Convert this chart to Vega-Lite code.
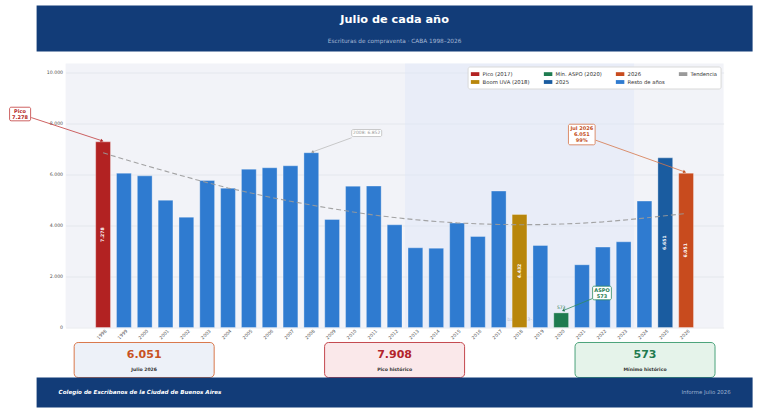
{
  "$schema": "https://vega.github.io/schema/vega-lite/v6.json",
  "background": "#ffffff",
  "padding": {"left": 8.6, "top": 5.5, "right": 8, "bottom": 4},
  "spacing": 0,
  "bounds": "flush",
  "center": true,
  "resolve": {
    "scale": {"color": "independent", "fill": "independent", "stroke": "independent", "x": "independent", "y": "independent"},
    "legend": {"color": "independent", "fill": "independent", "stroke": "independent"}
  },
  "datasets": {
    "barras": [
      {"anio": 1998, "valor": 7278, "cat": "Pico (2017)", "tendencia": 6848},
      {"anio": 1999, "valor": 6050, "cat": "Resto de años", "tendencia": 6600},
      {"anio": 2000, "valor": 5945, "cat": "Resto de años", "tendencia": 6360},
      {"anio": 2001, "valor": 4990, "cat": "Resto de años", "tendencia": 6130},
      {"anio": 2002, "valor": 4325, "cat": "Resto de años", "tendencia": 5900},
      {"anio": 2003, "valor": 5765, "cat": "Resto de años", "tendencia": 5680},
      {"anio": 2004, "valor": 5463, "cat": "Resto de años", "tendencia": 5470},
      {"anio": 2005, "valor": 6208, "cat": "Resto de años", "tendencia": 5290},
      {"anio": 2006, "valor": 6262, "cat": "Resto de años", "tendencia": 5110},
      {"anio": 2007, "valor": 6340, "cat": "Resto de años", "tendencia": 4950},
      {"anio": 2008, "valor": 6852, "cat": "Resto de años", "tendencia": 4800},
      {"anio": 2009, "valor": 4235, "cat": "Resto de años", "tendencia": 4660},
      {"anio": 2010, "valor": 5541, "cat": "Resto de años", "tendencia": 4530},
      {"anio": 2011, "valor": 5545, "cat": "Resto de años", "tendencia": 4410},
      {"anio": 2012, "valor": 4027, "cat": "Resto de años", "tendencia": 4310},
      {"anio": 2013, "valor": 3125, "cat": "Resto de años", "tendencia": 4225},
      {"anio": 2014, "valor": 3110, "cat": "Resto de años", "tendencia": 4155},
      {"anio": 2015, "valor": 4094, "cat": "Resto de años", "tendencia": 4100},
      {"anio": 2016, "valor": 3569, "cat": "Resto de años", "tendencia": 4065},
      {"anio": 2017, "valor": 5349, "cat": "Resto de años", "tendencia": 4040},
      {"anio": 2018, "valor": 4432, "cat": "Boom UVA (2018)", "tendencia": 4030},
      {"anio": 2019, "valor": 3216, "cat": "Resto de años", "tendencia": 4035},
      {"anio": 2020, "valor": 573, "cat": "Mín. ASPO (2020)", "tendencia": 4055},
      {"anio": 2021, "valor": 2459, "cat": "Resto de años", "tendencia": 4090},
      {"anio": 2022, "valor": 3152, "cat": "Resto de años", "tendencia": 4140},
      {"anio": 2023, "valor": 3360, "cat": "Resto de años", "tendencia": 4210},
      {"anio": 2024, "valor": 4956, "cat": "Resto de años", "tendencia": 4290},
      {"anio": 2025, "valor": 6651, "cat": "2025", "tendencia": 4380},
      {"anio": 2026, "valor": 6051, "cat": "2026", "tendencia": 4470}
    ],
    "notas": [
      {"id": "pico", "lineas": ["Pico", "7.278"], "x0": 1993.51, "x1": 1994.52, "y0": 8103, "y1": 8636, "xc": 1994.01, "yc": 8370, "ax0": 1994.55, "ay0": 8230, "ax1": 1997.95, "ay1": 7320},
      {"id": "d2008", "lineas": ["2008: 6.852"], "x0": 2009.94, "x1": 2011.38, "y0": 7487, "y1": 7762, "xc": 2010.66, "yc": 7624, "ax0": 2009.94, "ay0": 7440, "ax1": 2008.05, "ay1": 6880},
      {"id": "jul", "lineas": ["Jul 2026", "6.051", "99%"], "x0": 2020.35, "x1": 2021.63, "y0": 7162, "y1": 7969, "xc": 2020.99, "yc": 7565, "ax0": 2021.66, "ay0": 7342, "ax1": 2025.93, "ay1": 6100},
      {"id": "aspo", "lineas": ["ASPO", "573"], "x0": 2021.51, "x1": 2022.41, "y0": 1086, "y1": 1619, "xc": 2021.96, "yc": 1352, "ax0": 2021.51, "ay0": 1137, "ax1": 2020.1, "ay1": 666}
    ]
  },
  "vconcat": [
    {
      "width": 716,
      "height": 46,
      "view": {"fill": "#123c78", "stroke": null},
      "data": {"values": [{"titulo": "Julio de cada año", "subtitulo": "Escrituras de compraventa · CABA 1998–2026"}]},
      "layer": [
        {"mark": {"type": "text", "fontSize": 11.3, "fontWeight": "bold", "color": "#ffffff", "baseline": "middle", "dy": -8.5}, "encoding": {"text": {"field": "titulo"}}},
        {"mark": {"type": "text", "fontSize": 5.8, "color": "#a4b7d4", "baseline": "middle", "dy": 12.5}, "encoding": {"text": {"field": "subtitulo"}}}
      ]
    },
    {"width": 716, "height": 12, "data": {"values": []}, "mark": "point"},
    {
      "width": 658,
      "height": 264,
      "view": {"fill": "#f2f3f8", "stroke": null},
      "resolve": {"scale": {"y": "independent"}},
      "layer": [
        {
          "layer": [
            {
              "data": {"values": [{"desde": 2012.5, "hasta": 2023.5}]},
              "mark": {"type": "rect", "color": "#dde6f8", "opacity": 0.45},
              "encoding": {
                "x": {"field": "desde", "type": "quantitative", "title": null, "scale": {"domain": [1996.2, 2027.8], "nice": false, "zero": false, "padding": 0}},
                "x2": {"field": "hasta"}
              }
            },
            {
              "data": {"values": [{"texto": "Ciclo bajo 2013–2023"}]},
              "mark": {"type": "text", "fontSize": 4.6, "color": "#b3bbd0", "baseline": "bottom", "dy": -5},
              "encoding": {
                "x": {"datum": 2018, "type": "quantitative", "title": null, "scale": {"domain": [1996.2, 2027.8], "nice": false, "zero": false, "padding": 0}},
                "y": {"datum": 0, "type": "quantitative", "title": null, "scale": {"domain": [0, 10350], "nice": false}},
                "text": {"field": "texto"}
              }
            },
            {
              "data": {"name": "barras"},
              "mark": {"type": "bar", "width": 14.8, "stroke": "#ffffff", "strokeOpacity": 0.4, "strokeWidth": 0.8},
              "encoding": {
                "x": {"field": "anio", "type": "quantitative", "title": null, "scale": {"domain": [1996.2, 2027.8], "nice": false, "zero": false, "padding": 0}},
                "y": {"field": "valor", "type": "quantitative", "title": null, "scale": {"domain": [0, 10350], "nice": false},
                  "axis": {"values": [0, 2000, 4000, 6000, 8000, 10000], "format": ",.0f"}},
                "color": {
                  "field": "cat",
                  "type": "nominal",
                  "scale": {
                    "domain": ["Pico (2017)", "Boom UVA (2018)", "Mín. ASPO (2020)", "2025", "2026", "Resto de años", "Tendencia"],
                    "range": ["#b22222", "#b8860b", "#1e7b4f", "#1a5ca0", "#c84b1e", "#2f7bd0", "#9a9a9a"]
                  },
                  "legend": {
                    "title": null,
                    "orient": "top-right",
                    "offset": 3,
                    "columns": 4,
                    "columnPadding": 13,
                    "rowPadding": 0,
                    "padding": 3,
                    "fillColor": "#ffffff",
                    "strokeColor": "#d9d9d9",
                    "cornerRadius": 2,
                    "labelFontSize": 5.3,
                    "labelColor": "#333333",
                    "labelOffset": 3,
                    "symbolSize": 72,
                    "symbolStrokeWidth": 0,
                    "symbolType": "M-1,-0.45H1V0.45H-1Z",
                    "encode": {
                      "symbols": {
                        "shape": {"value": {"expr": "datum.value === 'Tendencia' ? 'M-1,-0.14H-0.2V0.14H-1Z M0.2,-0.14H1V0.14H0.2Z' : 'M-1,-0.45H1V0.45H-1Z'"}}
                      }
                    }
                  }
                }
              }
            },
            {
              "data": {"name": "barras"},
              "mark": {"type": "text", "fontSize": 4.6, "color": "#555555", "angle": 315, "align": "right", "baseline": "top", "dy": 1.5},
              "encoding": {
                "x": {"field": "anio", "type": "quantitative", "title": null, "scale": {"domain": [1996.2, 2027.8], "nice": false, "zero": false, "padding": 0}},
                "y": {"datum": 0, "type": "quantitative", "title": null, "scale": {"domain": [0, 10350], "nice": false}},
                "text": {"field": "anio", "type": "nominal"}
              }
            },
            {
              "data": {"name": "barras"},
              "mark": {"type": "line", "color": "#9a9a9a", "strokeDash": [5, 3], "strokeWidth": 1.1, "opacity": 0.9},
              "encoding": {
                "x": {"field": "anio", "type": "quantitative", "title": null, "scale": {"domain": [1996.2, 2027.8], "nice": false, "zero": false, "padding": 0}},
                "y": {"field": "tendencia", "type": "quantitative", "title": null, "scale": {"domain": [0, 10350], "nice": false}}
              }
            },
            {
              "data": {"name": "barras"},
              "transform": [{"filter": "datum.anio === 2020"}],
              "mark": {"type": "text", "fontSize": 4.5, "color": "#1e7b4f", "baseline": "bottom", "dy": -3},
              "encoding": {
                "x": {"field": "anio", "type": "quantitative", "title": null, "scale": {"domain": [1996.2, 2027.8], "nice": false, "zero": false, "padding": 0}},
                "y": {"field": "valor", "type": "quantitative", "title": null, "scale": {"domain": [0, 10350], "nice": false}},
                "text": {"field": "valor", "format": ","}
              }
            },
            {
              "data": {"name": "notas"},
              "mark": {"type": "rule", "strokeWidth": 0.8},
              "encoding": {
                "x": {"field": "ax0", "type": "quantitative", "title": null, "scale": {"domain": [1996.2, 2027.8], "nice": false, "zero": false, "padding": 0}},
                "x2": {"field": "ax1"},
                "y": {"field": "ay0", "type": "quantitative", "title": null, "scale": {"domain": [0, 10350], "nice": false}},
                "y2": {"field": "ay1"},
                "stroke": {"field": "id", "type": "nominal", "scale": {"domain": ["pico", "d2008", "jul", "aspo"], "range": ["#c23b3b", "#bdbdbd", "#d5764a", "#2e8b60"]}, "legend": null}
              }
            },
            {
              "data": {"name": "notas"},
              "transform": [{"filter": "datum.id === 'pico' || datum.id === 'jul'"}],
              "mark": {"type": "point", "shape": "triangle-right", "angle": 18.5, "size": 12, "filled": true, "opacity": 1},
              "encoding": {
                "x": {"field": "ax1", "type": "quantitative", "title": null, "scale": {"domain": [1996.2, 2027.8], "nice": false, "zero": false, "padding": 0}},
                "y": {"field": "ay1", "type": "quantitative", "title": null, "scale": {"domain": [0, 10350], "nice": false}},
                "fill": {"field": "id", "type": "nominal", "scale": {"domain": ["pico", "d2008", "jul", "aspo"], "range": ["#b22222", "#999999", "#c4501e", "#1e7b4f"]}, "legend": null}
              }
            },
            {
              "data": {"name": "notas"},
              "transform": [{"filter": "datum.id === 'aspo' || datum.id === 'd2008'"}],
              "mark": {"type": "point", "shape": "triangle-left", "angle": -22, "size": 10, "filled": true, "opacity": 1},
              "encoding": {
                "x": {"field": "ax1", "type": "quantitative", "title": null, "scale": {"domain": [1996.2, 2027.8], "nice": false, "zero": false, "padding": 0}},
                "y": {"field": "ay1", "type": "quantitative", "title": null, "scale": {"domain": [0, 10350], "nice": false}},
                "fill": {"field": "id", "type": "nominal", "scale": {"domain": ["pico", "d2008", "jul", "aspo"], "range": ["#b22222", "#999999", "#c4501e", "#1e7b4f"]}, "legend": null}
              }
            },
            {
              "data": {"name": "notas"},
              "mark": {"type": "rect", "fill": "#ffffff", "strokeWidth": 0.8, "cornerRadius": 1.5, "clip": false},
              "encoding": {
                "x": {"field": "x0", "type": "quantitative", "title": null, "scale": {"domain": [1996.2, 2027.8], "nice": false, "zero": false, "padding": 0}},
                "x2": {"field": "x1"},
                "y": {"field": "y0", "type": "quantitative", "title": null, "scale": {"domain": [0, 10350], "nice": false}},
                "y2": {"field": "y1"},
                "stroke": {"field": "id", "type": "nominal", "scale": {"domain": ["pico", "d2008", "jul", "aspo"], "range": ["#c23b3b", "#bdbdbd", "#d5764a", "#2e8b60"]}, "legend": null}
              }
            },
            {
              "data": {"name": "notas"},
              "transform": [{"filter": "datum.id !== 'd2008'"}],
              "mark": {"type": "text", "fontSize": 5, "fontWeight": "bold", "lineHeight": 6.1, "baseline": "top", "align": "center", "dy": 1.6},
              "encoding": {
                "x": {"field": "xc", "type": "quantitative", "title": null, "scale": {"domain": [1996.2, 2027.8], "nice": false, "zero": false, "padding": 0}},
                "y": {"field": "y1", "type": "quantitative", "title": null, "scale": {"domain": [0, 10350], "nice": false}},
                "text": {"field": "lineas"},
                "fill": {"field": "id", "type": "nominal", "scale": {"domain": ["pico", "d2008", "jul", "aspo"], "range": ["#b22222", "#999999", "#c4501e", "#1e7b4f"]}, "legend": null}
              }
            },
            {
              "data": {"name": "notas"},
              "transform": [{"filter": "datum.id === 'd2008'"}],
              "mark": {"type": "text", "fontSize": 4.5, "baseline": "middle", "align": "center"},
              "encoding": {
                "x": {"field": "xc", "type": "quantitative", "title": null, "scale": {"domain": [1996.2, 2027.8], "nice": false, "zero": false, "padding": 0}},
                "y": {"field": "yc", "type": "quantitative", "title": null, "scale": {"domain": [0, 10350], "nice": false}},
                "text": {"field": "lineas"},
                "fill": {"field": "id", "type": "nominal", "scale": {"domain": ["pico", "d2008", "jul", "aspo"], "range": ["#b22222", "#999999", "#c4501e", "#1e7b4f"]}, "legend": null}
              }
            }
          ]
        },
        {
          "data": {"name": "barras"},
          "transform": [{"filter": "datum.cat !== 'Resto de años' && datum.anio !== 2020"}],
          "mark": {"type": "text", "angle": 270, "fontSize": 4.6, "fontWeight": "bold", "color": "#ffffff", "baseline": "middle", "align": "center"},
          "encoding": {
            "x": {"field": "anio", "type": "quantitative", "title": null, "scale": {"domain": [1996.2, 2027.8], "nice": false, "zero": false, "padding": 0}},
            "y": {"field": "valor", "type": "quantitative", "title": null, "scale": {"domain": [0, 20700], "nice": false}, "axis": null},
            "text": {"field": "valor", "format": ","}
          }
        }
      ]
    },
    {"width": 716, "height": 15, "data": {"values": []}, "mark": "point"},
    {
      "width": 716,
      "height": 35,
      "data": {"values": [
        {"tarjeta": "julio", "valor": 6051, "etiqueta": "Julio 2026"},
        {"tarjeta": "pico", "valor": 7908, "etiqueta": "Pico histórico"},
        {"tarjeta": "minimo", "valor": 573, "etiqueta": "Mínimo histórico"}
      ]},
      "encoding": {
        "x": {"field": "tarjeta", "type": "nominal", "sort": null, "scale": {"type": "band", "domain": ["julio", "pico", "minimo"], "paddingInner": 0.441, "paddingOuter": 0.15}, "axis": null}
      },
      "layer": [
        {
          "mark": {"type": "bar", "cornerRadius": 4, "strokeWidth": 1},
          "encoding": {
            "fill": {"field": "tarjeta", "type": "nominal", "scale": {"domain": ["julio", "pico", "minimo"], "range": ["#edf1f8", "#fae8ea", "#e5f3ea"]}, "legend": null},
            "stroke": {"field": "tarjeta", "type": "nominal", "scale": {"domain": ["julio", "pico", "minimo"], "range": ["#d9774a", "#c4474d", "#4aa37a"]}, "legend": null}
          }
        },
        {
          "mark": {"type": "text", "fontSize": 11, "fontWeight": "bold", "baseline": "middle", "dy": -4.5},
          "encoding": {
            "text": {"field": "valor", "format": ","},
            "color": {"field": "tarjeta", "type": "nominal", "scale": {"domain": ["julio", "pico", "minimo"], "range": ["#c8521f", "#b3242b", "#1e7b4f"]}, "legend": null}
          }
        },
        {
          "mark": {"type": "text", "fontSize": 4.6, "fontWeight": "bold", "color": "#333333", "baseline": "middle", "dy": 10},
          "encoding": {"text": {"field": "etiqueta"}}
        }
      ]
    },
    {
      "width": 716,
      "height": 30,
      "view": {"fill": "#123c78", "stroke": null},
      "data": {"values": [
        {"lado": "izq", "texto": "Colegio de Escribanos de la Ciudad de Buenos Aires"},
        {"lado": "der", "texto": "Informe Julio 2026"}
      ]},
      "layer": [
        {
          "transform": [{"filter": "datum.lado === 'izq'"}],
          "mark": {"type": "text", "align": "left", "baseline": "middle", "fontSize": 5.6, "fontWeight": "bold", "fontStyle": "italic", "color": "#ffffff"},
          "encoding": {
            "x": {"field": "lado", "type": "nominal", "scale": {"type": "point", "domain": ["izq", "der"], "padding": 0.0327}, "axis": null},
            "text": {"field": "texto"}
          }
        },
        {
          "transform": [{"filter": "datum.lado === 'der'"}],
          "mark": {"type": "text", "align": "right", "baseline": "middle", "fontSize": 5.4, "color": "#9fb3d1"},
          "encoding": {
            "x": {"field": "lado", "type": "nominal", "scale": {"type": "point", "domain": ["izq", "der"], "padding": 0.0327}, "axis": null},
            "text": {"field": "texto"}
          }
        }
      ]
    }
  ],
  "config": {
    "font": "DejaVu Sans",
    "view": {"stroke": null},
    "locale": {"number": {"decimal": ",", "thousands": ".", "grouping": [3], "currency": ["$", ""]}},
    "axis": {"domain": false, "ticks": false, "labelColor": "#555555", "labelFont": "DejaVu Sans"},
    "axisX": {"grid": false, "labels": false},
    "axisY": {"grid": true, "gridColor": "#e1e3ea", "gridWidth": 0.8, "labelFontSize": 4.7, "labelPadding": 3},
    "legend": {"labelFont": "DejaVu Sans"}
  }
}
